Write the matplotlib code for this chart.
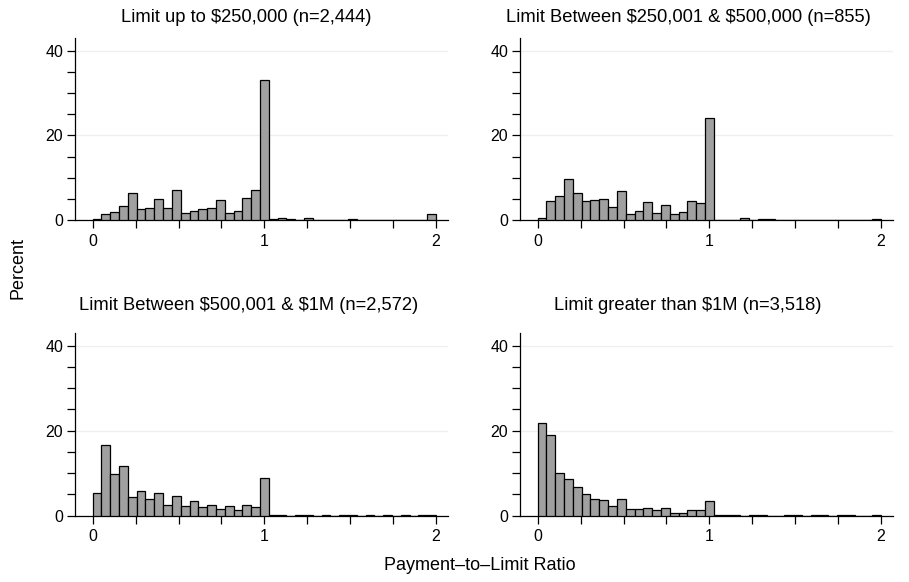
import numpy as np
import matplotlib
matplotlib.use("Agg")
import matplotlib.pyplot as plt
from matplotlib.ticker import MultipleLocator

plt.rcParams["font.family"] = ["Liberation Sans", "DejaVu Sans"]
plt.rcParams["text.parse_math"] = False  # dollar signs are literal here

# 39 bins over [0, 2]
BIN_EDGES = np.linspace(0, 2, 40)

titles = [
    "Limit up to $250,000 (n=2,444)",
    "Limit Between $250,001 & $500,000 (n=855)",
    "Limit Between $500,001 & $1M (n=2,572)",
    "Limit greater than $1M (n=3,518)",
]

pct_upto_250k = [
    0.15, 1.3, 1.9, 3.2, 6.3, 2.5, 2.9, 5.0, 2.9, 7.1,
    1.7, 2.2, 2.6, 2.8, 4.7, 1.7, 2.1, 5.3, 7.0, 33.1,
    0.15, 0.4, 0.15, 0.1, 0.4, 0.1, 0.1, 0.1, 0.1, 0.25,
    0.1, 0.1, 0.0, 0.0, 0.05, 0.1, 0.1, 0.1, 1.35,
]
pct_250k_500k = [
    0.5, 4.5, 5.6, 9.7, 6.4, 4.4, 4.7, 5.0, 3.1, 6.8,
    1.3, 2.1, 4.2, 1.65, 3.5, 1.3, 2.0, 4.5, 4.1, 24.0,
    0.0, 0.0, 0.1, 0.5, 0.0, 0.15, 0.2, 0.0, 0.1, 0.0,
    0.1, 0.0, 0.1, 0.0, 0.0, 0.1, 0.0, 0.0, 0.2,
]
pct_500k_1m = [
    5.2, 16.7, 9.8, 11.6, 4.3, 5.8, 3.9, 5.2, 2.5, 4.6,
    2.2, 3.3, 2.0, 2.5, 1.5, 2.2, 1.35, 2.5, 1.9, 8.9,
    0.05, 0.05, 0.0, 0.05, 0.05, 0.0, 0.05, 0.0, 0.05, 0.05,
    0.0, 0.05, 0.0, 0.05, 0.0, 0.05, 0.0, 0.05, 0.15,
]
pct_over_1m = [
    21.9, 18.9, 10.0, 8.7, 6.6, 5.1, 3.85, 3.6, 2.2, 3.8,
    1.5, 1.5, 1.7, 1.3, 1.7, 0.7, 0.6, 1.2, 1.3, 3.5,
    0.05, 0.05, 0.05, 0.0, 0.05, 0.05, 0.0, 0.0, 0.05, 0.05,
    0.0, 0.05, 0.05, 0.0, 0.05, 0.05, 0.0, 0.0, 0.15,
]

series = [pct_upto_250k, pct_250k_500k, pct_500k_1m, pct_over_1m]

W, H = 909, 582
fig = plt.figure(figsize=(W / 100, H / 100), dpi=100)

# axes boxes in pixels: (left, top, right, bottom)
boxes = [
    (75, 38, 448, 220),
    (520, 38, 893, 220),
    (75, 333, 448, 515.5),
    (520, 333, 893, 515.5),
]
title_pos = [(246, 17), (688, 17), (249, 305), (688, 305)]


def draw_panel(ax, vals):
    widths = np.diff(BIN_EDGES)
    ax.bar(BIN_EDGES[:-1], vals, width=widths, align="edge",
           color="#a0a0a0", edgecolor="black", linewidth=0.9, zorder=3)
    ax.set_xlim(-0.103, 2.07)
    ax.set_ylim(0, 43)
    ax.xaxis.set_major_locator(MultipleLocator(1))
    ax.xaxis.set_minor_locator(MultipleLocator(0.25))
    ax.yaxis.set_major_locator(MultipleLocator(20))
    ax.yaxis.set_minor_locator(MultipleLocator(5))
    for s in ("top", "right"):
        ax.spines[s].set_visible(False)
    ax.spines["left"].set_linewidth(0.9)
    ax.spines["bottom"].set_linewidth(0.9)
    ax.tick_params(which="both", direction="out", length=6, width=0.9,
                   labelsize=11.5, colors="black")
    ax.tick_params(axis="y", pad=2.5)
    ax.tick_params(axis="x", pad=4)
    ax.grid(axis="y", which="major", color="#efefef", linewidth=0.9, zorder=0)


for i, vals in enumerate(series):
    l, t, r, b = boxes[i]
    ax = fig.add_axes([l / W, 1 - b / H, (r - l) / W, (b - t) / H])
    draw_panel(ax, vals)
    tx, ty = title_pos[i]
    fig.text(tx / W, 1 - ty / H, titles[i], ha="center", va="center", fontsize=13.2)

fig.text(18 / W, 1 - 268 / H, "Percent", rotation=90, ha="center", va="center", fontsize=13)
fig.text(480 / W, 1 - 566 / H, "Payment\u2013to\u2013Limit Ratio", ha="center", va="center", fontsize=13)

fig.savefig("out.png", dpi=100)
